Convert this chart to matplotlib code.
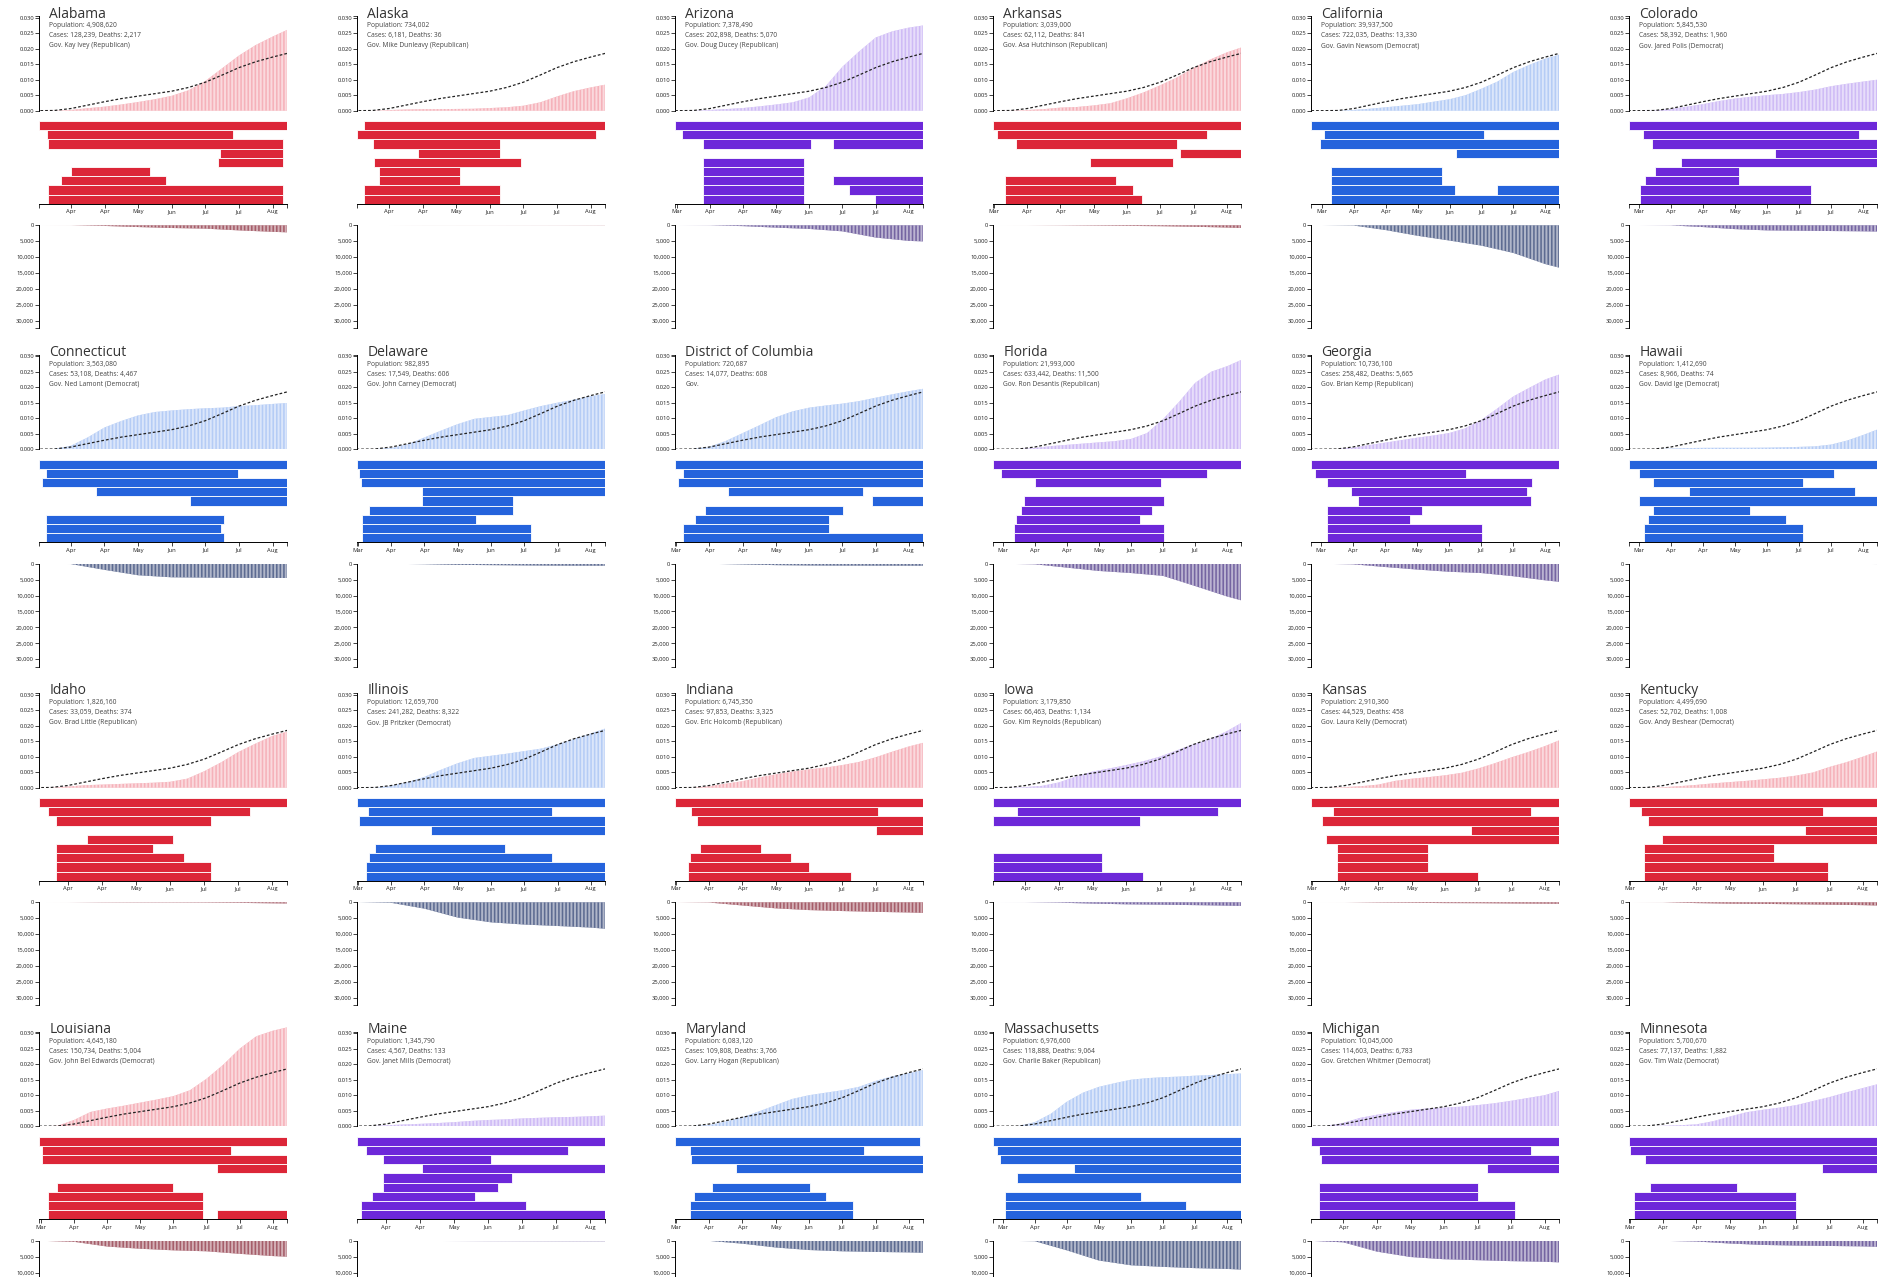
import matplotlib
matplotlib.use("Agg")
import matplotlib.pyplot as plt

plt.rcParams['font.family'] = ['Open Sans', 'DejaVu Sans']
plt.rcParams['hatch.linewidth'] = 0.45

# ---------------- data ----------------
states = ["Alabama", "Alaska", "Arizona", "Arkansas", "California", "Colorado",
          "Connecticut", "Delaware", "District of Columbia", "Florida", "Georgia", "Hawaii",
          "Idaho", "Illinois", "Indiana", "Iowa", "Kansas", "Kentucky",
          "Louisiana", "Maine", "Maryland", "Massachusetts", "Michigan", "Minnesota"]
population = ["4,908,620", "734,002", "7,378,490", "3,039,000", "39,937,500", "5,845,530",
              "3,563,080", "982,895", "720,687", "21,993,000", "10,736,100", "1,412,690",
              "1,826,160", "12,659,700", "6,745,350", "3,179,850", "2,910,360", "4,499,690",
              "4,645,180", "1,345,790", "6,083,120", "6,976,600", "10,045,000", "5,700,670"]
cases_total = ["128,239", "6,181", "202,898", "62,112", "722,035", "58,392",
               "53,108", "17,549", "14,077", "633,442", "258,482", "8,966",
               "33,059", "241,282", "97,853", "66,463", "44,529", "52,702",
               "150,734", "4,567", "109,808", "118,888", "114,603", "77,137"]
deaths_total = ["2,217", "36", "5,070", "841", "13,330", "1,960",
                "4,467", "606", "608", "11,500", "5,665", "74",
                "374", "8,322", "3,325", "1,134", "458", "1,008",
                "5,004", "133", "3,766", "9,064", "6,783", "1,882"]
governors = ["Gov. Kay Ivey (Republican)", "Gov. Mike Dunleavy (Republican)", "Gov. Doug Ducey (Republican)",
             "Gov. Asa Hutchinson (Republican)", "Gov. Gavin Newsom (Democrat)", "Gov. Jared Polis (Democrat)",
             "Gov. Ned Lamont (Democrat)", "Gov. John Carney (Democrat)", "Gov.",
             "Gov. Ron Desantis (Republican)", "Gov. Brian Kemp (Republican)", "Gov. David Ige (Democrat)",
             "Gov. Brad Little (Republican)", "Gov. JB Pritzker (Democrat)", "Gov. Eric Holcomb (Republican)",
             "Gov. Kim Reynolds (Republican)", "Gov. Laura Kelly (Democrat)", "Gov. Andy Beshear (Democrat)",
             "Gov. John Bel Edwards (Democrat)", "Gov. Janet Mills (Democrat)", "Gov. Larry Hogan (Republican)",
             "Gov. Charlie Baker (Republican)", "Gov. Gretchen Whitmer (Democrat)", "Gov. Tim Walz (Democrat)"]
lean = ["R", "R", "P", "R", "B", "P",
        "B", "B", "B", "P", "P", "B",
        "R", "B", "R", "P", "R", "R",
        "R", "P", "B", "B", "P", "P"]
# first day of each state's series (days since Mar 1, 2020)
start_day = [9.4, 9.3, 7.0, 7.5, 0.0, 1.0,
             9.5, 7.5, 7.3, 1.0, 1.0, 1.0,
             12.0, 7.5, 7.5, 9.0, 7.5, 7.5,
             6.9, 12.0, 7.5, 1.0, 9.0, 7.5]
end_day = 186.5

tick_days = [8, 32, 56, 80, 104, 128, 152, 176]
tick_labels = ["Mar", "Apr", "Apr", "May", "Jun", "Jul", "Jul", "Aug"]
case_ticks = [0, 0.005, 0.010, 0.015, 0.020, 0.025, 0.030]
death_ticks = [0, 5000, 10000, 15000, 20000, 25000, 30000]

# cumulative cases per capita, sampled on case_days
case_days = [0, 8, 20, 32, 44, 56, 68, 80, 92, 104, 116, 128, 140, 152, 164, 176, 186.5]
national_avg = [0, 0.000002, 0.00006, 0.0007, 0.0018, 0.0029, 0.0039, 0.0047, 0.0055, 0.0063,
                0.0075, 0.0092, 0.0115, 0.0139, 0.0158, 0.0173, 0.0185]
cases_per_capita = [
    [0, 0, 0.00003, 0.00023, 0.0008, 0.0013, 0.0020, 0.0028, 0.0037, 0.0048, 0.0066, 0.0096, 0.0137, 0.0178, 0.0212, 0.0239, 0.0261],
    [0, 0, 0.00001, 0.0002, 0.00038, 0.00048, 0.00052, 0.00056, 0.00062, 0.00085, 0.0011, 0.0016, 0.0027, 0.0046, 0.0063, 0.0075, 0.0084],
    [0, 0, 0.00002, 0.00023, 0.00053, 0.00085, 0.0014, 0.0020, 0.0027, 0.0043, 0.0080, 0.0142, 0.0191, 0.0236, 0.0256, 0.0268, 0.0275],
    [0, 0, 0.00003, 0.00021, 0.0005, 0.0010, 0.0012, 0.0017, 0.0024, 0.0040, 0.0059, 0.0082, 0.0107, 0.0138, 0.0165, 0.0188, 0.0204],
    [0, 0.000001, 0.00002, 0.00025, 0.00063, 0.0011, 0.0016, 0.0021, 0.0029, 0.0037, 0.0050, 0.0071, 0.0094, 0.0125, 0.0148, 0.0168, 0.0181],
    [0, 0.000002, 0.00007, 0.00057, 0.0013, 0.0021, 0.0031, 0.0039, 0.0045, 0.0050, 0.0054, 0.0060, 0.0068, 0.0079, 0.0087, 0.0094, 0.0100],
    [0, 0, 0.00005, 0.0011, 0.0038, 0.0070, 0.0091, 0.0109, 0.0120, 0.0125, 0.0129, 0.0132, 0.0134, 0.0139, 0.0142, 0.0146, 0.0149],
    [0, 0, 0.00004, 0.0004, 0.0016, 0.0038, 0.0060, 0.0081, 0.0098, 0.0104, 0.0110, 0.0125, 0.0139, 0.0150, 0.0160, 0.0171, 0.01785],
    [0, 0, 0.00004, 0.0008, 0.0027, 0.0052, 0.0077, 0.0103, 0.0122, 0.0134, 0.0141, 0.0147, 0.0155, 0.0166, 0.0177, 0.0187, 0.0195],
    [0, 0, 0.00003, 0.0004, 0.0010, 0.0014, 0.0018, 0.0022, 0.0026, 0.0033, 0.0052, 0.0097, 0.0153, 0.0214, 0.0250, 0.0268, 0.0288],
    [0, 0, 0.00005, 0.0005, 0.0013, 0.0021, 0.0029, 0.0037, 0.0044, 0.0052, 0.0067, 0.0094, 0.0131, 0.0170, 0.0198, 0.0225, 0.0241],
    [0, 0, 0.00004, 0.00018, 0.00035, 0.00043, 0.00045, 0.00045, 0.00046, 0.0005, 0.0006, 0.00074, 0.00092, 0.0015, 0.0028, 0.0046, 0.00635],
    [0, 0, 0.00002, 0.00037, 0.0008, 0.0010, 0.0012, 0.0014, 0.0016, 0.0019, 0.0029, 0.0053, 0.0082, 0.0115, 0.0142, 0.0167, 0.0181],
    [0, 0, 0.00005, 0.0006, 0.0018, 0.0035, 0.0058, 0.0079, 0.0096, 0.0103, 0.0110, 0.0118, 0.0126, 0.0140, 0.0157, 0.0175, 0.0191],
    [0, 0, 0.00001, 0.00045, 0.0013, 0.0021, 0.0033, 0.0043, 0.0052, 0.0059, 0.0065, 0.0073, 0.0083, 0.0098, 0.0116, 0.0133, 0.0145],
    [0, 0, 0.00002, 0.00019, 0.0006, 0.0017, 0.0036, 0.0052, 0.0062, 0.0073, 0.0085, 0.0100, 0.0120, 0.0140, 0.0157, 0.0182, 0.0209],
    [0, 0, 0.00001, 0.00019, 0.0005, 0.0010, 0.0022, 0.0029, 0.0034, 0.0040, 0.0048, 0.0062, 0.0079, 0.0098, 0.0115, 0.0134, 0.0153],
    [0, 0, 0.00001, 0.00015, 0.0005, 0.0009, 0.0014, 0.0018, 0.0022, 0.0027, 0.0032, 0.0039, 0.0049, 0.0067, 0.0082, 0.0100, 0.0117],
    [0, 0, 0.00012, 0.0020, 0.0046, 0.0057, 0.0066, 0.0076, 0.0086, 0.0097, 0.0116, 0.0153, 0.0198, 0.0250, 0.0290, 0.0308, 0.0319],
    [0, 0, 0.00002, 0.00028, 0.00055, 0.00075, 0.0010, 0.0013, 0.0017, 0.0020, 0.0022, 0.0025, 0.0027, 0.0029, 0.0030, 0.0032, 0.0034],
    [0, 0, 0.00002, 0.0004, 0.0015, 0.0029, 0.0048, 0.0068, 0.0088, 0.0100, 0.0108, 0.0116, 0.0127, 0.0146, 0.0161, 0.0171, 0.0181],
    [0, 0.000003, 0.00007, 0.0013, 0.0040, 0.0079, 0.0108, 0.0127, 0.0139, 0.0150, 0.0155, 0.0158, 0.0160, 0.0163, 0.0165, 0.0168, 0.0170],
    [0, 0, 0.00005, 0.0011, 0.0027, 0.0037, 0.0045, 0.0053, 0.0057, 0.0060, 0.0063, 0.0068, 0.0074, 0.0082, 0.0091, 0.0100, 0.0114],
    [0, 0, 0.00002, 0.00013, 0.0003, 0.0006, 0.0016, 0.0031, 0.0045, 0.0053, 0.0060, 0.0068, 0.0081, 0.0094, 0.0109, 0.0123, 0.01353],
]

# cumulative deaths, sampled on death_days
death_days = [0, 8, 32, 56, 80, 104, 128, 152, 176, 186.5]
deaths_series = [
    [0, 0, 10, 200, 550, 850, 1050, 1600, 2050, 2217],
    [0, 0, 2, 9, 10, 11, 16, 21, 31, 36],
    [0, 0, 30, 260, 730, 1140, 1900, 3850, 4900, 5070],
    [0, 0, 6, 45, 110, 190, 280, 450, 700, 841],
    [0, 0, 80, 1500, 3300, 4800, 6400, 8700, 12200, 13330],
    [0, 0, 40, 550, 1200, 1600, 1700, 1800, 1900, 1960],
    [0, 0, 70, 1900, 3600, 4250, 4350, 4430, 4460, 4467],
    [0, 0, 5, 120, 330, 420, 510, 580, 600, 606],
    [0, 0, 9, 190, 420, 530, 570, 585, 600, 608],
    [0, 0, 150, 1200, 2250, 2900, 3800, 7000, 10300, 11500],
    [0, 0, 150, 1000, 1800, 2500, 2900, 3900, 5200, 5665],
    [0, 0, 1, 12, 17, 17, 19, 26, 45, 74],
    [0, 0, 5, 60, 80, 88, 110, 180, 320, 374],
    [0, 0, 160, 2000, 4800, 6300, 7000, 7450, 7950, 8322],
    [0, 0, 80, 1000, 1900, 2450, 2750, 3000, 3200, 3325],
    [0, 0, 10, 120, 400, 630, 740, 880, 1050, 1134],
    [0, 0, 5, 100, 170, 250, 280, 360, 420, 458],
    [0, 0, 18, 250, 420, 500, 620, 740, 900, 1008],
    [0, 0, 310, 1800, 2500, 3000, 3300, 4100, 4800, 5004],
    [0, 0, 5, 44, 73, 100, 110, 123, 130, 133],
    [0, 0, 30, 900, 2100, 2900, 3300, 3500, 3650, 3766],
    [0, 0, 120, 3000, 6200, 7700, 8200, 8600, 8850, 9064],
    [0, 0, 480, 3400, 5100, 5800, 6100, 6400, 6600, 6783],
    [0, 0, 20, 220, 850, 1300, 1500, 1620, 1760, 1882],
]

# policy timelines: (row, first day, last day)
policies = [
    [(0, 9.4, 186.5), (1, 14.6, 147.5), (2, 15.8, 183.7), (3, 138.4, 183.7), (4, 137.2, 183.7),
     (5, 32, 88.4), (6, 24.6, 99.9), (7, 15.8, 183.7), (8, 15.8, 183.7)],
    [(0, 14.3, 186.5), (1, 9.3, 179.5), (2, 20.3, 111.5), (3, 52.5, 111.5), (4, 21.5, 126.5),
     (5, 24.6, 82.4), (6, 24.6, 82.4), (7, 14.3, 111.5), (8, 14.3, 111.5)],
    [(0, 7, 186.5), (1, 11.7, 186.5), (2, 27.4, 105), (2, 121, 186.5), (4, 27, 100),
     (5, 27, 100), (6, 27, 100), (6, 121, 186.5), (7, 27, 100), (7, 133, 186.5), (8, 27, 100), (8, 151.5, 186.5)],
    [(0, 7.5, 186.5), (1, 10, 161.6), (2, 24, 139.8), (3, 142.4, 186.5), (4, 77.4, 137.4),
     (6, 16.3, 95.9), (7, 16.3, 108), (8, 16.3, 115)],
    [(0, 0, 186.5), (1, 9.3, 130), (2, 6.7, 186.5), (3, 109, 186.5),
     (5, 15, 98.2), (6, 15, 98.2), (7, 15, 108.3), (7, 140, 186.5), (8, 15, 186.5)],
    [(0, 1, 186.5), (1, 11, 172.6), (2, 18, 186.5), (3, 109.7, 186.5), (4, 40, 186.5),
     (5, 20, 83), (6, 13, 83), (7, 9, 137), (8, 9, 137)],
    [(0, 9.5, 186.5), (1, 14, 151), (2, 11.6, 186.5), (3, 50, 186.5), (4, 117, 186.5),
     (6, 14, 141.5), (7, 14, 139), (8, 14, 141.5)],
    [(0, 7.5, 186.5), (1, 9, 186.5), (2, 10, 186.5), (3, 54, 186.5), (4, 54, 120),
     (5, 16, 120), (6, 11, 93.5), (7, 11, 133), (8, 11, 133)],
    [(0, 7.3, 186.4), (1, 12.6, 186.4), (2, 9.4, 186.4), (3, 45.5, 143), (4, 149.6, 186.4),
     (5, 28.9, 128.7), (6, 21.7, 118.6), (7, 12.6, 118.6), (8, 12.6, 186.4)],
    [(0, 1, 186.5), (1, 7, 161), (2, 32.5, 126.5), (4, 24, 129),
     (5, 22, 120), (6, 18, 111), (7, 16.5, 129), (8, 16.5, 129)],
    [(0, 1, 186.5), (1, 4, 117), (2, 13, 166), (3, 31, 162), (4, 36, 165),
     (5, 13, 84), (6, 13, 75), (7, 13, 129), (8, 13, 129)],
    [(0, 1, 186.5), (1, 8, 154), (2, 19, 131), (3, 46, 170), (4, 8, 186.5),
     (5, 19, 91), (6, 15, 118), (7, 12, 131), (8, 12, 131)],
    [(0, 12, 186.5), (1, 18.3, 160), (2, 24, 133), (4, 45.5, 106),
     (5, 24, 92), (6, 24, 114), (7, 24, 133), (8, 24, 133)],
    [(0, 7.5, 186.5), (1, 15, 148), (2, 9, 186.5), (3, 61, 186.5),
     (5, 20, 114), (6, 16, 148), (7, 14, 186.5), (8, 14, 186.5)],
    [(0, 7.5, 186.5), (1, 19, 154), (2, 23.5, 186.5), (3, 152, 186.5),
     (5, 25, 69), (6, 18, 91), (7, 16.5, 104), (8, 16.5, 134)],
    [(0, 9, 186.5), (1, 26, 170), (2, 9, 114),
     (6, 9, 87), (7, 9, 87), (8, 9, 116)],
    [(0, 7.5, 186.5), (1, 23, 166), (2, 15, 186.5), (3, 123, 186.5), (4, 18, 186.5),
     (5, 26, 92), (6, 26, 92), (7, 26, 92), (8, 26, 128)],
    [(0, 7.5, 186.5), (1, 16, 147), (2, 21, 186.5), (3, 134, 186.5), (4, 31, 186.5),
     (5, 18, 112), (6, 18, 112), (7, 18, 151), (8, 18, 151)],
    [(0, 6.9, 186.5), (1, 9.1, 145.5), (2, 9.1, 186.5), (3, 135.4, 186.5),
     (5, 19.4, 104), (6, 13.4, 125.7), (7, 13.4, 125.7), (8, 13.4, 125.7), (8, 135.4, 186.5)],
    [(0, 12, 186.5), (1, 18, 160), (2, 30, 106), (3, 57.6, 186.5), (4, 30, 121),
     (5, 30, 111), (6, 22, 95), (7, 14.9, 131), (8, 14.9, 186.5)],
    [(0, 7.5, 184), (1, 18, 144), (2, 19, 186.5), (3, 51, 186.5),
     (5, 34, 105), (6, 21, 116), (7, 18, 136), (8, 18, 136)],
    [(0, 1, 186.5), (1, 3.5, 186.5), (2, 6, 186.5), (3, 61, 186.5), (4, 19, 186.5),
     (6, 9.5, 111.5), (7, 9.5, 145), (8, 9.5, 186.5)],
    [(0, 9, 186.5), (1, 14.5, 166), (2, 16, 186.5), (3, 134.5, 186.5),
     (5, 14.5, 128), (6, 14.5, 128), (7, 14.5, 154.5), (8, 14.5, 154.5)],
    [(0, 7.5, 186.5), (1, 8, 186.5), (2, 19, 186.5), (3, 146.5, 186.5),
     (5, 22.5, 85), (6, 11, 128), (7, 11, 128), (8, 11, 128)],
]

# ---------------- styling ----------------
bar_color = {"R": "#dc2638", "B": "#2563dc", "P": "#6d28d9"}
area_color = {"R": "#f39aa5", "B": "#9fbdf3", "P": "#c0a6f3"}
death_color = {"R": "#8a2c3c", "B": "#2c3e70", "P": "#4a3585"}

W, H = 1892, 1277
fig = plt.figure(figsize=(W / 100, H / 100), dpi=100)


def rect(x, y, w, h):
    return [x / W, 1 - (y + h) / H, w / W, h / H]


TICK_FS = 4.2
AX_LW = 0.7
PANEL_W = 248
PX_PER_UNIT = 93 / 0.030
DEATH_MAX = 32400
DEATH_H = 103


def style_axis(ax):
    for sp in ("top", "right", "bottom", "left"):
        ax.spines[sp].set_visible(False)
    ax.patch.set_alpha(0)
    ax.tick_params(which="both", labelsize=TICK_FS, length=2.6, width=0.6, pad=1.2, color="#222",
                   labelcolor="#222")


for i, name in enumerate(states):
    r, c = divmod(i, 6)
    ox, oy = 318 * c, 338.5 * r
    x0 = 39.3 + ox
    s, e = start_day[i], end_day
    lc = lean[i]

    # --- cases per capita ---
    ytop = 0.033
    h_top = PX_PER_UNIT * ytop
    ax = fig.add_axes(rect(x0, oy + 110.7 - h_top, PANEL_W, h_top))
    style_axis(ax)
    ax.spines["left"].set_visible(True)
    ax.spines["left"].set_linewidth(AX_LW)
    ax.spines["left"].set_bounds(0, 0.0305)
    ax.set_xlim(s, e)
    ax.set_ylim(0, ytop)
    ax.fill_between(case_days, 0, cases_per_capita[i], facecolor=area_color[lc],
                    edgecolor="white", linewidth=0, hatch="|" * 12, zorder=1)
    ax.plot(case_days, national_avg, color="#222", lw=0.9, dashes=(2.2, 1.6), zorder=3)
    ax.set_xticks([])
    ax.set_yticks(case_ticks)
    ax.set_yticklabels([f"{v:.3f}" for v in case_ticks])
    ax.set_yticks([0.0305], minor=True)

    # --- policy bars ---
    axb = fig.add_axes(rect(x0, oy + 121, PANEL_W, 82.8))
    style_axis(axb)
    axb.spines["bottom"].set_visible(True)
    axb.spines["bottom"].set_linewidth(AX_LW)
    axb.set_xlim(s, e)
    axb.set_ylim(9, 0)
    for row, a, b in policies[i]:
        a2 = max(a, s)
        axb.barh(row + 0.5, b - a2, left=a2, height=1.0, color=bar_color[lc],
                 edgecolor="white", linewidth=0.6)
    axb.set_yticks([])
    vis = [k for k, d in enumerate(tick_days) if s <= d <= e]
    axb.set_xticks([tick_days[k] for k in vis])
    axb.set_xticklabels([tick_labels[k] for k in vis])
    axb.set_xticks([s, e], minor=True)

    # --- deaths (inverted) ---
    y0d = oy + 225.3
    axd = fig.add_axes(rect(x0, y0d, PANEL_W, DEATH_H))
    style_axis(axd)
    axd.spines["left"].set_visible(True)
    axd.spines["left"].set_linewidth(AX_LW)
    axd.set_xlim(s, e)
    axd.set_ylim(DEATH_MAX, 0)
    axd.fill_between(death_days, 0, deaths_series[i], facecolor=death_color[lc],
                     edgecolor="white", linewidth=0, hatch="|" * 12)
    axd.set_xticks([])
    # only keep tick labels that fall inside the canvas
    dt = [v for v in death_ticks if y0d + v * DEATH_H / DEATH_MAX + 3 < H]
    axd.set_yticks(dt)
    axd.set_yticklabels([f"{v:,}" for v in dt])
    axd.set_yticks([DEATH_MAX], minor=True)

    # --- texts ---
    tx = x0 + 10
    fig.text(tx / W, 1 - (oy + 17.5) / H, name, fontsize=10, color="#333", va="baseline", ha="left")
    info = ["Population: " + population[i],
            "Cases: " + cases_total[i] + ", Deaths: " + deaths_total[i],
            governors[i]]
    for k, line in enumerate(info):
        fig.text(tx / W, 1 - (oy + 25.7 + 10 * k) / H, line, fontsize=4.8, color="#444",
                 va="center", ha="left")

fig.savefig("out.png", dpi=100, facecolor="white")
